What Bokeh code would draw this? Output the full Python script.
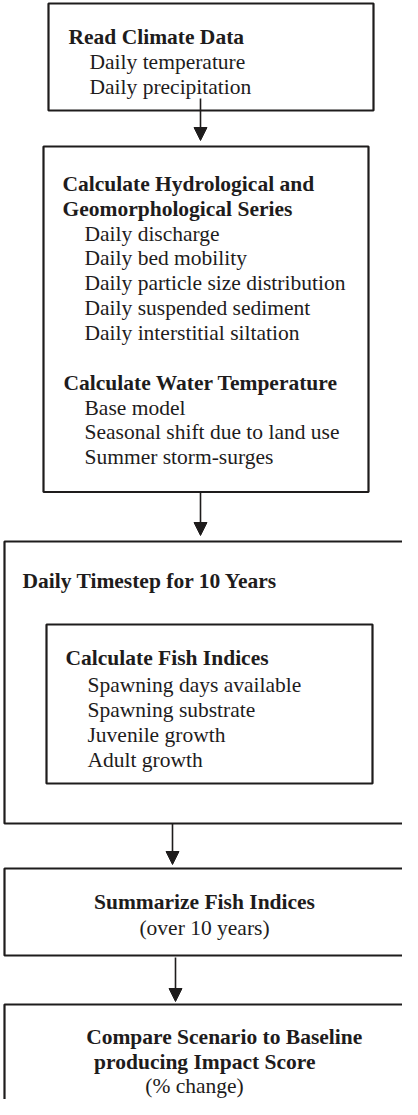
from bokeh.plotting import figure
from bokeh.models import ColumnDataSource, Arrow, NormalHead
from bokeh.core.properties import value
from bokeh.embed import file_html
from bokeh.resources import INLINE

# ---- content (texts of the flowchart) ----
climate_title = ["Read Climate Data"]
climate_items = ["Daily temperature", "Daily precipitation"]
hydro_title = ["Calculate Hydrological and", "Geomorphological Series"]
hydro_items = ["Daily discharge", "Daily bed mobility", "Daily particle size distribution",
               "Daily suspended sediment", "Daily interstitial siltation"]
water_title = ["Calculate Water Temperature"]
water_items = ["Base model", "Seasonal shift due to land use", "Summer storm-surges"]
loop_title = ["Daily Timestep for 10 Years"]
fish_title = ["Calculate Fish Indices"]
fish_items = ["Spawning days available", "Spawning substrate", "Juvenile growth", "Adult growth"]
summary_title = ["Summarize Fish Indices"]
summary_note = ["(over 10 years)"]
compare_title = ["Compare Scenario to Baseline", "producing Impact Score"]
compare_note = ["(% change)"]

# ---- layout (page pixel coordinates) ----
box_left = [56, 51, 12, 54, 12, 12]
box_right = [381, 376, 440, 380, 440, 440]
box_top = [11, 154, 549, 632, 876, 1012]
box_bottom = [118, 499.5, 831, 791, 963, 1140]

arrow_x = [208, 208, 180, 183]
arrow_y0 = [106, 500, 831, 965]
arrow_y1 = [148, 543, 872, 1009]

INK = "#1e1c1c"
FONT = "Liberation Serif"
SIZE = "21.5px"

p = figure(width=402, height=1099, x_range=(8, 410), y_range=(1107, 8),
           output_backend="svg", toolbar_location=None, min_border=0,
           background_fill_color="white", border_fill_color="white")
p.axis.visible = False
p.grid.visible = False
p.outline_line_color = None

p.quad(left=box_left, right=box_right, top=box_top, bottom=box_bottom,
       fill_color=None, line_color=INK, line_width=2.2)

for x, y0, y1 in zip(arrow_x, arrow_y0, arrow_y1):
    p.add_layout(Arrow(end=NormalHead(size=13, fill_color=INK, line_color=INK, line_width=1),
                       x_start=x, y_start=y0, x_end=x, y_end=y1,
                       line_color=INK, line_width=1.6))


def block(lines, xs, y0, step, bold=False, align="left"):
    if not isinstance(xs, list):
        xs = [xs] * len(lines)
    ys = [y0 + i * step for i in range(len(lines))]
    src = ColumnDataSource(dict(x=xs, y=ys, t=lines))
    p.text(x="x", y="y", text="t", source=src, text_font=value(FONT),
           text_font_size=SIZE, text_font_style="bold" if bold else "normal",
           text_align=align, text_baseline="alphabetic", text_color=INK)


block(climate_title, 76, 44.3, 25, bold=True)
block(climate_items, 97, 69.2, 25)
block(hydro_title, 70, 191.7, 24.8, bold=True)
block(hydro_items, 92, 241, 24.8)
block(water_title, 71, 390.5, 24.8, bold=True)
block(water_items, 92, 415, 24.7)
block(loop_title, 30, 588.3, 25, bold=True)
block(fish_title, 73, 665.7, 25, bold=True)
block(fish_items, 95, 692.3, 25)
block(summary_title, 212, 909.3, 25, bold=True, align="center")
block(summary_note, 212, 935, 25, align="center")
block(compare_title, [231.7, 212.3], 1044, 25, bold=True, align="center")
block(compare_note, 202, 1093, 25, align="center")

open("out.html", "w").write(file_html(p, INLINE))
